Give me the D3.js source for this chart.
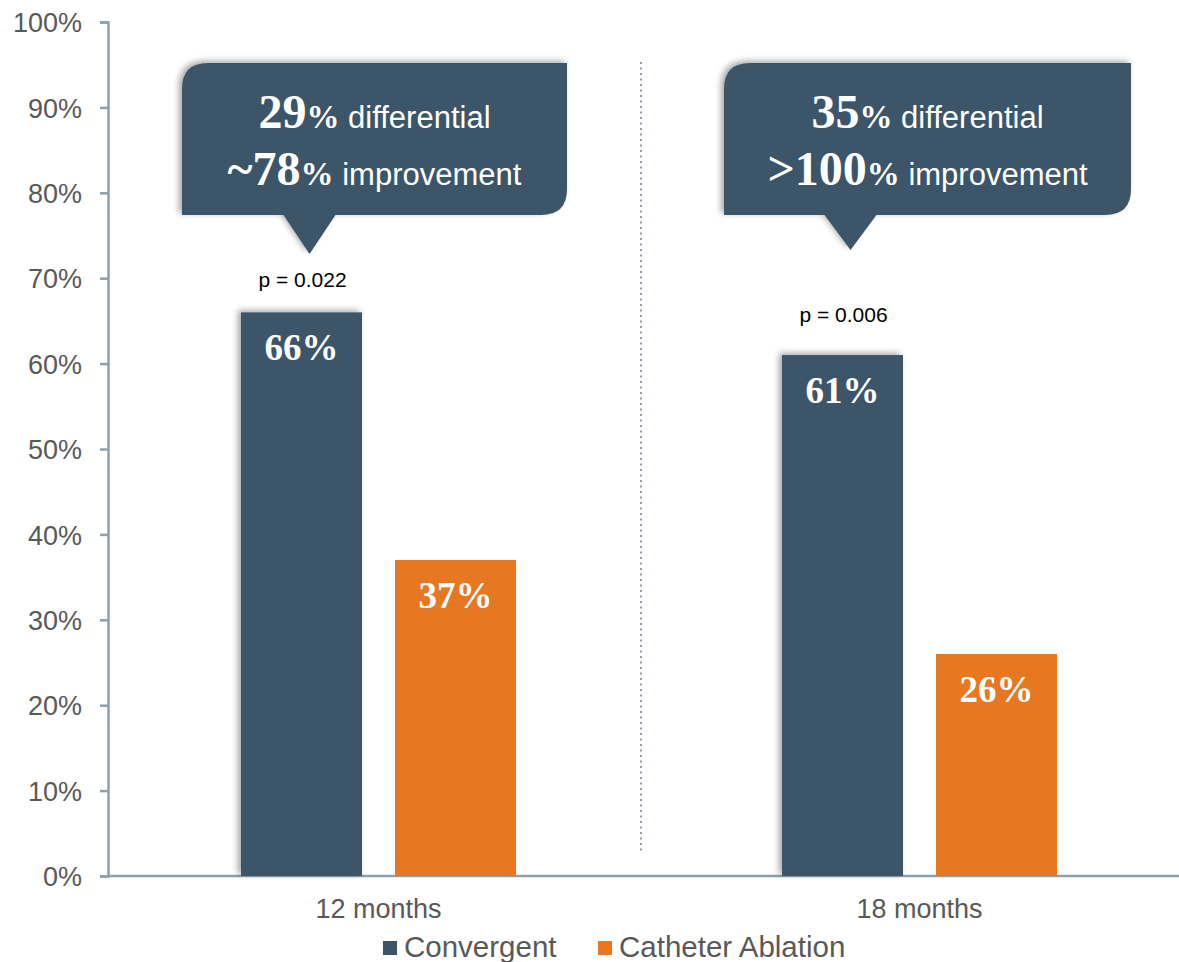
<!DOCTYPE html>
<html><head><meta charset="utf-8">
<script src="https://cdn.jsdelivr.net/npm/d3@7"></script>
<style>html,body{margin:0;padding:0;background:#fff;}svg{display:block;}</style>
</head><body>
<svg id="chart" width="1179" height="962"></svg>
<script>
const categories = ["12 months", "18 months"];
const series = ["Convergent", "Catheter Ablation"];
const convergent = [66, 61];
const catheterAblation = [37, 26];
const pValues = ["p = 0.022", "p = 0.006"];
const yTicks = [0, 10, 20, 30, 40, 50, 60, 70, 80, 90, 100];
const calloutBold1 = ["29", "35"];
const calloutText1 = [" differential", " differential"];
const calloutBold2 = ["~78", ">100"];
const calloutText2 = [" improvement", " improvement"];

const colors = {"Convergent": "#3d5467", "Catheter Ablation": "#e87722"};
const axisColor = "#8aa0b3";
const svg = d3.select("#chart");

const defs = svg.append("defs");
const f = defs.append("filter").attr("id", "shadow").attr("x", "-20%").attr("y", "-20%").attr("width", "140%").attr("height", "140%");
f.append("feDropShadow").attr("dx", -3).attr("dy", -2).attr("stdDeviation", 3).attr("flood-color", "#000").attr("flood-opacity", 0.35);

const y = d3.scaleLinear().domain([0, 100]).range([876, 22]);
const x = d3.scaleBand().domain(categories).range([108, 1190]);
const xi = d3.scaleBand().domain(series).range([0, x.bandwidth()]).paddingInner(0.2143).paddingOuter(0.8636);

const data = categories.map((c, i) => ({cat: c, values: [
  {s: series[0], v: convergent[i]}, {s: series[1], v: catheterAblation[i]}]}));

// y axis
const yAxis = d3.axisLeft(y).tickValues(yTicks).tickFormat(d => d + "%").tickSize(8).tickSizeOuter(8);
const ga = svg.append("g").attr("transform", "translate(108,0)").call(yAxis);
ga.select(".domain").attr("stroke", axisColor).attr("stroke-width", 2.5);
ga.selectAll(".tick line").attr("stroke", axisColor).attr("stroke-width", 2.5);
ga.selectAll(".tick text").attr("fill", "#595959").attr("font-family", "Liberation Sans, Arial, sans-serif")
  .attr("font-size", 27).attr("x", -26).attr("dy", "0.36em");

// x axis
const xAxis = d3.axisBottom(x).tickSize(0).tickSizeOuter(0);
const gx = svg.append("g").attr("transform", "translate(0,876)").call(xAxis);
gx.select(".domain").remove();
svg.append("line").attr("x1", 108).attr("x2", 1179).attr("y1", 876).attr("y2", 876)
  .attr("stroke", axisColor).attr("stroke-width", 2.5);
gx.selectAll(".tick text").attr("fill", "#595959").attr("font-family", "Liberation Sans, Arial, sans-serif")
  .attr("font-size", 27).attr("y", 42).attr("dy", 0);

// dotted separator
svg.append("line").attr("x1", x(categories[1]) - 8).attr("x2", x(categories[1]) - 8)
  .attr("y1", 62).attr("y2", 853).attr("stroke", axisColor).attr("stroke-width", 2)
  .attr("stroke-dasharray", "2 3.5");

// bars
const groups = svg.selectAll(".grp").data(data).join("g").attr("class", "grp")
  .attr("transform", d => `translate(${x(d.cat)},0)`);
groups.selectAll("rect").data(d => d.values).join("rect")
  .attr("x", d => xi(d.s)).attr("width", xi.bandwidth())
  .attr("y", d => y(d.v)).attr("height", d => y(0) - y(d.v))
  .attr("fill", d => colors[d.s])
  .attr("filter", d => d.s === series[0] ? "url(#shadow)" : null);
groups.selectAll("text.val").data(d => d.values).join("text").attr("class", "val")
  .attr("x", d => xi(d.s) + xi.bandwidth() / 2).attr("y", d => y(d.v) + 48)
  .attr("text-anchor", "middle").attr("fill", "#fff")
  .attr("font-family", "Liberation Serif, Times New Roman, serif").attr("font-weight", "bold")
  .attr("font-size", 37).text(d => d.v + "%");

// p values
const pOff = [25, 33];
groups.append("text").attr("x", xi(series[0]) + xi.bandwidth() / 2 + 1)
  .attr("y", (d, i) => y(convergent[i]) - pOff[i])
  .attr("text-anchor", "middle").attr("fill", "#000")
  .attr("font-family", "Liberation Sans, Arial, sans-serif").attr("font-size", 21)
  .text((d, i) => pValues[i]);

// callouts
const boxW = [385, 407];
const boxShift = [-4, 8];
categories.forEach((c, i) => {
  const cx = x(c) + x.bandwidth() / 2 + boxShift[i];
  const x0 = cx - boxW[i] / 2, x1 = cx + boxW[i] / 2;
  const y0 = 63, y1 = 215, r = 26;
  const ax = x(c) + xi(series[0]) + xi.bandwidth() / 2 + 8;
  const apexY = [254, 250][i];
  const p = d3.path();
  p.moveTo(x0 + r, y0);
  p.lineTo(x1, y0);
  p.lineTo(x1, y1 - r);
  p.quadraticCurveTo(x1, y1, x1 - r, y1);
  p.lineTo(ax + 26, y1);
  p.lineTo(ax, apexY);
  p.lineTo(ax - 26, y1);
  p.lineTo(x0, y1);
  p.lineTo(x0, y0 + r);
  p.quadraticCurveTo(x0, y0, x0 + r, y0);
  p.closePath();
  svg.append("path").attr("d", p.toString()).attr("fill", "#3d5467").attr("filter", "url(#shadow)");
  const lines = [[calloutBold1[i], calloutText1[i], 128], [calloutBold2[i], calloutText2[i], 185]];
  lines.forEach(([b, t, by]) => {
    const tx = svg.append("text").attr("x", cx).attr("y", by).attr("text-anchor", "middle").attr("fill", "#fff");
    tx.append("tspan").attr("font-family", "Liberation Serif, Times New Roman, serif").attr("font-weight", "bold")
      .attr("font-size", 48).text(b);
    tx.append("tspan").attr("font-family", "Liberation Serif, Times New Roman, serif").attr("font-weight", "bold")
      .attr("font-size", 33).text("%");
    tx.append("tspan").attr("font-family", "Liberation Sans, Arial, sans-serif")
      .attr("font-size", 31).text(t);
  });
});

// legend
const legend = svg.append("g");
const lx = [383, 598];
series.forEach((s, i) => {
  legend.append("rect").attr("x", lx[i]).attr("y", 941).attr("width", 14).attr("height", 14).attr("fill", colors[s]);
  legend.append("text").attr("x", lx[i] + 21).attr("y", 957).attr("fill", "#595959")
    .attr("font-family", "Liberation Sans, Arial, sans-serif").attr("font-size", 29.5).text(s);
});
</script>
</body></html>
